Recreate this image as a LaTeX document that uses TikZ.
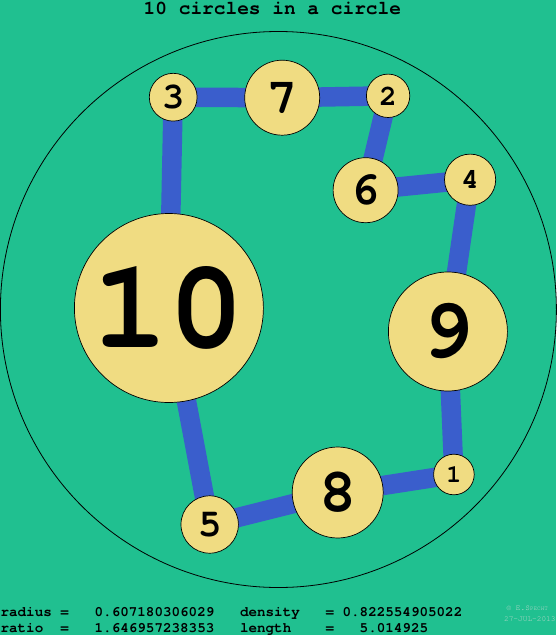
\documentclass[tikz,border=0pt]{standalone}
\usepackage{fontspec}
\newfontfamily\cur{texgyrecursor-regular.otf}[BoldFont=texgyrecursor-bold.otf]
\definecolor{bggreen}{RGB}{32,192,144}
\definecolor{discfill}{RGB}{240,220,130}
\definecolor{linkblue}{RGB}{58,94,204}
\definecolor{signgray}{RGB}{200,218,210}
\pgfdeclarelayer{bglayer}
\pgfdeclarelayer{links}
\pgfsetlayers{bglayer,links,main}
\tikzset{
  disc/.style={circle, draw=black, line width=0.7pt, fill=discfill, inner sep=0pt, minimum size=#1, font=\cur\bfseries},
  link/.style={line width=19.5pt, draw=linkblue},
  info/.style={anchor=base west, inner sep=0pt, font=\cur\bfseries\fontsize{14.25}{14.25}\selectfont},
  sign/.style={anchor=base west, inner sep=0pt, text=signgray, font=\cur\fontsize{7.8}{7.8}\selectfont}
}
\newcommand{\numsz}[1]{\fontsize{#1}{#1}\selectfont}
\begin{document}
\begin{tikzpicture}[x=1pt,y=-1pt]
\begin{pgfonlayer}{bglayer}
  \fill[bggreen] (0,0) rectangle (556,635);
  \draw[line width=0.8pt] (278,309.5) circle[radius=278];
\end{pgfonlayer}
\useasboundingbox (0,0) rectangle (556,635);

\node[anchor=base, inner sep=0pt, font=\cur\bfseries\fontsize{19.5}{19.5}\selectfont] (title) at (272,14) {10 circles in a circle};

\node[disc=189pt] (n10) at (168.5,308) {\numsz{127}10};
\node[disc=119pt] (n9) at (447.5,331.5) {\numsz{85}9};
\node[disc=91pt] (n8) at (337.3,492.5) {\numsz{62}8};
\node[disc=75pt] (n7) at (281.8,97.7) {\numsz{50}7};
\node[disc=65pt] (n6) at (365.2,190.2) {\numsz{47}6};
\node[disc=57.4pt] (n5) at (209.3,524.5) {\numsz{39}5};
\node[disc=51.2pt] (n4) at (469.7,179.7) {\numsz{29}4};
\node[disc=47.8pt] (n3) at (172.8,97.2) {\numsz{37}3};
\node[disc=43.4pt] (n2) at (387.7,95.8) {\numsz{29}2};
\node[disc=40.6pt] (n1) at (453.5,474.5) {\numsz{25}1};

\begin{pgfonlayer}{links}
  \draw[link] (n3.center) -- (n7.center);
  \draw[link] (n7.center) -- (n2.center);
  \draw[link] (n2.center) -- (n6.center);
  \draw[link] (n6.center) -- (n4.center);
  \draw[link] (n4.center) -- (n9.center);
  \draw[link] (n9.center) -- (n1.center);
  \draw[link] (n1.center) -- (n8.center);
  \draw[link] (n8.center) -- (n5.center);
  \draw[link] (n5.center) -- (n10.center);
  \draw[link] (n10.center) -- (n3.center);
\end{pgfonlayer}

% columns of 8.55pt
\node[info] (l1a) at (0,616.7) {radius};
\node[info] (l1b) at (59.85,616.7) {=};
\node[info] (l1c) at (94.05,616.7) {0.607180306029};
\node[info] (l1d) at (239.4,616.7) {density};
\node[info] (l1e) at (324.9,616.7) {=};
\node[info] (l1f) at (342,616.7) {0.822554905022};

\node[info] (l2a) at (0,632.3) {ratio};
\node[info] (l2b) at (59.85,632.3) {=};
\node[info] (l2c) at (94.05,632.3) {1.646957238353};
\node[info] (l2d) at (239.4,632.3) {length};
\node[info] (l2e) at (324.9,632.3) {=};
\node[info] (l2f) at (359.1,632.3) {5.014925};

\node[sign] (s1) at (506,610.5) {\textcopyright\ E.S{\fontsize{6}{6}\selectfont PECHT}};
\node[sign] (s2) at (503.5,621) {27-JUL-2013};
\end{tikzpicture}
\end{document}
